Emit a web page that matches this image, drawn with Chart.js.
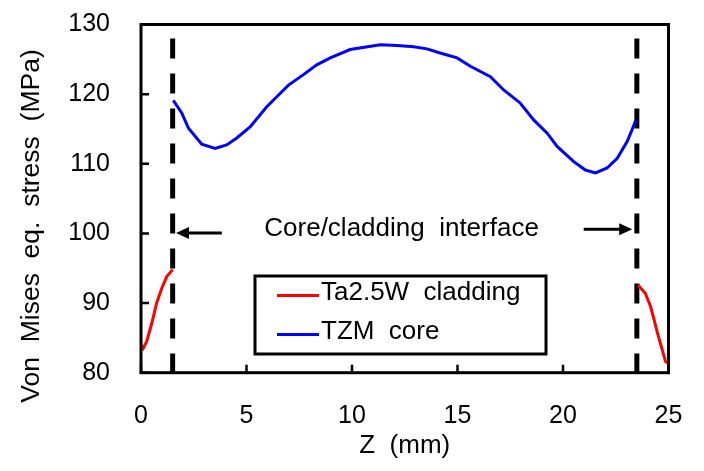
<!DOCTYPE html>
<html>
<head>
<meta charset="utf-8">
<script src="https://cdn.jsdelivr.net/npm/chart.js@4.4.0/dist/chart.umd.min.js"></script>
<style>
html,body{margin:0;padding:0;background:#fff;}
#wrap{width:704px;height:471px;position:relative;}
</style>
</head>
<body>
<div id="wrap"><canvas id="c" width="704" height="471"></canvas></div>
<script>
// ---- data ----
const xTicks = [0, 5, 10, 15, 20, 25];
const yTicks = [80, 90, 100, 110, 120, 130];
const cladZLeft = [0, 0.11, 0.27, 0.51, 0.74, 0.98, 1.22, 1.5];
const cladSLeft = [84.0, 83.5, 84.5, 87.1, 90.0, 92.1, 93.8, 94.8];
const cladZRight = [23.55, 23.9, 24.15, 24.3, 24.46, 24.7, 24.86, 25.0];
const cladSRight = [92.6, 91.4, 89.5, 87.8, 85.9, 83.3, 81.6, 81.3];
const coreZ = [1.53, 1.93, 2.25, 2.88, 3.51, 4.06, 4.54, 5.17, 5.96, 6.59, 6.99, 7.70, 8.33, 8.97, 9.91, 11.34, 12.13, 12.92, 13.55, 14.18, 14.98, 15.61, 16.56, 17.19, 17.98, 18.61, 19.25, 19.72, 20.51, 21.06, 21.54, 22.09, 22.57, 23.04, 23.45];
const coreS = [119.1, 117.3, 115.1, 112.8, 112.2, 112.7, 113.7, 115.3, 118.2, 120.1, 121.3, 122.8, 124.2, 125.2, 126.4, 127.1, 127.0, 126.8, 126.5, 125.9, 125.2, 124.0, 122.5, 120.6, 118.7, 116.3, 114.4, 112.5, 110.3, 109.1, 108.7, 109.4, 110.8, 113.2, 116.2];
const interfaceZ = [1.5, 23.5];
const interfaceS = [128, 80];
const seriesLabels = ['Ta2.5W  cladding', 'TZM  core'];
const annotationText = 'Core/cladding  interface';
const annotationPos = [12.35, 100.7];
const arrowLeft = [3.83, 1.66, 100.05];
const arrowRight = [20.98, 23.28, 100.6];
const xTitle = 'Z  (mm)';
const yTitle = 'Von  Mises  eq.  stress  (MPa)';

const FONT = "'Liberation Sans', Arial, Helvetica, sans-serif";
const zip = (a, b) => a.map((v, i) => ({x: v, y: b[i]}));

const lineDs = (data, color) => ({
  data, borderColor: color, borderWidth: 3, pointRadius: 0, showLine: true,
  tension: 0, fill: false
});

const datasets = [
  Object.assign(lineDs(zip(cladZLeft, cladSLeft), '#ff0000'), {label: seriesLabels[0]}),
  Object.assign(lineDs(zip(cladZRight, cladSRight), '#ff0000'), {label: '_'}),
  Object.assign(lineDs(zip(coreZ, coreS), '#0000ff'), {label: seriesLabels[1]}),
  Object.assign(lineDs([{x: interfaceZ[0], y: interfaceS[0]}, {x: interfaceZ[0], y: interfaceS[1]}], '#000'), {label: '_', borderWidth: 5, borderDash: [20, 15]}),
  Object.assign(lineDs([{x: interfaceZ[1], y: interfaceS[0]}, {x: interfaceZ[1], y: interfaceS[1]}], '#000'), {label: '_', borderWidth: 5, borderDash: [20, 15]})
];

const zeroPad = s => { s.paddingTop = 0; s.paddingBottom = 0; s.paddingLeft = 0; s.paddingRight = 0; };

const decor = {
  id: 'decor',
  afterDraw(chart) {
    const {ctx, chartArea: a, scales: {x, y}} = chart;
    ctx.save();
    // frame
    ctx.strokeStyle = '#000';
    ctx.lineWidth = 3;
    ctx.strokeRect(a.left, a.top, a.right - a.left, a.bottom - a.top);
    // inward ticks
    ctx.lineWidth = 2.5;
    ctx.beginPath();
    xTicks.forEach(t => { const px = x.getPixelForValue(t); ctx.moveTo(px, a.bottom); ctx.lineTo(px, a.bottom - 8); });
    yTicks.forEach(t => { const py = y.getPixelForValue(t); ctx.moveTo(a.left, py); ctx.lineTo(a.left + 8, py); });
    ctx.stroke();
    // arrows
    const arrow = (x0, x1, yv) => {
      const px0 = x.getPixelForValue(x0), px1 = x.getPixelForValue(x1), py = y.getPixelForValue(yv);
      const dir = Math.sign(px1 - px0);
      ctx.lineWidth = 3;
      ctx.strokeStyle = '#000';
      ctx.beginPath();
      ctx.moveTo(px0, py); ctx.lineTo(px1 - dir * 10, py); ctx.stroke();
      ctx.beginPath();
      ctx.moveTo(px1, py); ctx.lineTo(px1 - dir * 13, py - 6); ctx.lineTo(px1 - dir * 13, py + 6); ctx.closePath();
      ctx.fillStyle = '#000'; ctx.fill();
    };
    arrow(arrowLeft[0], arrowLeft[1], arrowLeft[2]);
    arrow(arrowRight[0], arrowRight[1], arrowRight[2]);
    // annotation text
    ctx.fillStyle = '#000';
    ctx.font = '26px ' + FONT;
    ctx.textAlign = 'center';
    ctx.textBaseline = 'middle';
    ctx.fillText(annotationText, x.getPixelForValue(annotationPos[0]), y.getPixelForValue(annotationPos[1]));
    // legend
    const lx = 255, ly = 276, lw = 291, lh = 78;
    ctx.fillStyle = '#fff';
    ctx.fillRect(lx, ly, lw, lh);
    ctx.lineWidth = 3;
    ctx.strokeStyle = '#000';
    ctx.strokeRect(lx, ly, lw, lh);
    const items = [[chart.data.datasets[0], 295.5], [chart.data.datasets[2], 334.5]];
    ctx.textAlign = 'left';
    items.forEach(([ds, yy]) => {
      ctx.strokeStyle = ds.borderColor;
      ctx.lineWidth = 3;
      ctx.beginPath(); ctx.moveTo(277, yy); ctx.lineTo(319, yy); ctx.stroke();
      ctx.fillStyle = '#000';
      ctx.fillText(ds.label, 321, yy - 3);
    });
    // y title
    ctx.save();
    ctx.translate(32, 226);
    ctx.rotate(-Math.PI / 2);
    ctx.textAlign = 'center';
    ctx.textBaseline = 'middle';
    ctx.font = '26.5px ' + FONT;
    ctx.fillText(yTitle, 0, 0);
    ctx.restore();
    ctx.restore();
  }
};

new Chart(document.getElementById('c'), {
  type: 'scatter',
  data: {datasets},
  options: {
    responsive: false,
    animation: false,
    layout: {padding: {left: 0, right: 35.5, top: 24.5, bottom: 0}},
    plugins: {legend: {display: false}, tooltip: {enabled: false}},
    scales: {
      x: {
        type: 'linear', min: 0, max: 25,
        afterBuildTicks: s => { s.ticks = xTicks.map(v => ({value: v})); },
        afterFit: s => { s.height = 98.3; zeroPad(s); },
        grid: {display: false, drawTicks: false},
        border: {display: false},
        ticks: {color: '#000', font: {family: FONT, size: 25}, padding: 28, maxRotation: 0, autoSkip: false},
        title: {display: true, text: xTitle, color: '#000', font: {family: FONT, size: 26}, padding: {bottom: 10}}
      },
      y: {
        type: 'linear', min: 80, max: 130,
        afterBuildTicks: s => { s.ticks = yTicks.map(v => ({value: v})); },
        afterFit: s => { s.width = 141; zeroPad(s); },
        grid: {display: false, drawTicks: false},
        border: {display: false},
        ticks: {color: '#000', font: {family: FONT, size: 25}, padding: 31, autoSkip: false}
      }
    }
  },
  plugins: [decor]
});
</script>
</body>
</html>
